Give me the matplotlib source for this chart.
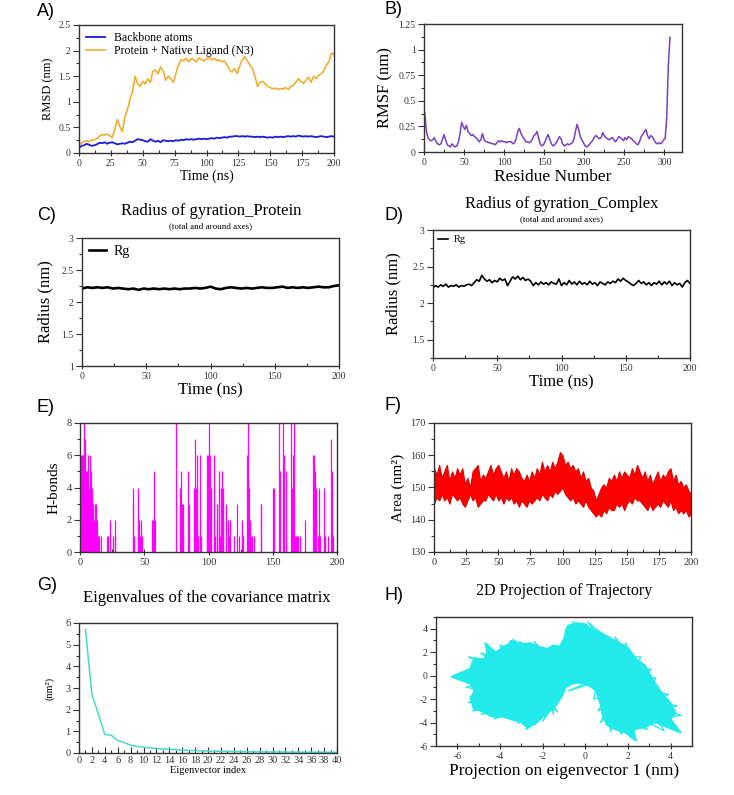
import matplotlib
matplotlib.use('Agg')
import matplotlib.pyplot as plt
from matplotlib.ticker import MultipleLocator, StrMethodFormatter
import numpy as np

plt.rcParams['font.family'] = ['Liberation Serif', 'DejaVu Serif']
plt.rcParams['axes.unicode_minus'] = False

# ---- A) RMSD (every 2 ns) ----
rmsd_time = np.arange(0, 201, 2)
rmsd_backbone = [0.10, 0.14, 0.15, 0.18, 0.16, 0.14, 0.15, 0.17, 0.20, 0.19,
                 0.21, 0.18, 0.20, 0.21, 0.19, 0.17, 0.18, 0.19, 0.18, 0.20,
                 0.22, 0.21, 0.24, 0.27, 0.26, 0.25, 0.23, 0.22, 0.27, 0.24,
                 0.22, 0.24, 0.21, 0.25, 0.24, 0.23, 0.24, 0.23, 0.25, 0.24,
                 0.26, 0.25, 0.27, 0.26, 0.27, 0.26, 0.27, 0.28, 0.27, 0.28,
                 0.27, 0.28, 0.29, 0.28, 0.30, 0.29, 0.30, 0.31, 0.30, 0.32,
                 0.32, 0.33, 0.33, 0.32, 0.33, 0.32, 0.33, 0.32, 0.32, 0.31,
                 0.32, 0.31, 0.32, 0.31, 0.30, 0.31, 0.30, 0.32, 0.31, 0.32,
                 0.31, 0.32, 0.33, 0.32, 0.33, 0.32, 0.34, 0.33, 0.32, 0.33,
                 0.32, 0.33, 0.32, 0.31, 0.32, 0.33, 0.32, 0.31, 0.32, 0.33,
                 0.32]
rmsd_complex = [0.15, 0.20, 0.22, 0.24, 0.22, 0.25, 0.26, 0.28, 0.33, 0.36,
                0.35, 0.37, 0.34, 0.30, 0.45, 0.65, 0.52, 0.42, 0.70, 0.85,
                1.05, 1.20, 1.50, 1.35, 1.30, 1.40, 1.35, 1.45, 1.38, 1.60,
                1.62, 1.55, 1.68, 1.60, 1.42, 1.50, 1.45, 1.38, 1.55, 1.72,
                1.82, 1.80, 1.85, 1.78, 1.84, 1.82, 1.78, 1.86, 1.82, 1.80,
                1.84, 1.86, 1.82, 1.85, 1.80, 1.82, 1.78, 1.80, 1.72, 1.62,
                1.58, 1.65, 1.55, 1.70, 1.82, 1.88, 1.80, 1.72, 1.65, 1.50,
                1.30, 1.38, 1.40, 1.35, 1.30, 1.28, 1.25, 1.27, 1.24, 1.26,
                1.25, 1.28, 1.24, 1.30, 1.32, 1.38, 1.45, 1.40, 1.36, 1.42,
                1.48, 1.38, 1.50, 1.45, 1.52, 1.55, 1.60, 1.72, 1.78, 1.95,
                1.92]

# ---- B) RMSF per residue (every 2nd residue) ----
rmsf_res = np.arange(1, 308, 2)
rmsf_val = [0.38, 0.20, 0.14, 0.12, 0.11, 0.12, 0.14, 0.10, 0.08, 0.07,
            0.08, 0.12, 0.17, 0.12, 0.07, 0.06, 0.05, 0.08, 0.06, 0.05,
            0.06, 0.10, 0.18, 0.29, 0.25, 0.22, 0.26, 0.20, 0.18, 0.16,
            0.17, 0.15, 0.14, 0.12, 0.10, 0.12, 0.18, 0.12, 0.10, 0.10,
            0.09, 0.09, 0.08, 0.08, 0.07, 0.09, 0.11, 0.10, 0.11, 0.10,
            0.10, 0.09, 0.10, 0.10, 0.10, 0.08, 0.09, 0.13, 0.20, 0.23,
            0.18, 0.15, 0.13, 0.10, 0.10, 0.09, 0.10, 0.12, 0.16, 0.17,
            0.20, 0.14, 0.08, 0.06, 0.07, 0.10, 0.14, 0.17, 0.12, 0.08,
            0.06, 0.07, 0.09, 0.12, 0.15, 0.13, 0.08, 0.06, 0.07, 0.08,
            0.07, 0.08, 0.09, 0.12, 0.20, 0.27, 0.22, 0.15, 0.12, 0.09,
            0.06, 0.05, 0.06, 0.08, 0.10, 0.12, 0.15, 0.16, 0.14, 0.13,
            0.14, 0.19, 0.16, 0.14, 0.13, 0.12, 0.13, 0.14, 0.12, 0.10,
            0.12, 0.15, 0.14, 0.13, 0.11, 0.14, 0.12, 0.15, 0.14, 0.13,
            0.11, 0.10, 0.08, 0.07, 0.10, 0.15, 0.17, 0.20, 0.22, 0.16,
            0.13, 0.16, 0.15, 0.12, 0.09, 0.08, 0.09, 0.08, 0.09, 0.12,
            0.13, 0.35, 0.85, 1.12]

# ---- C) Rg protein (every 4 ns) ----
rgp_time = np.arange(0, 201, 4)
rgp_val = [2.21, 2.23, 2.22, 2.23, 2.22, 2.23, 2.21, 2.22, 2.21, 2.20,
           2.21, 2.19, 2.21, 2.20, 2.21, 2.20, 2.21, 2.20, 2.21, 2.20,
           2.21, 2.21, 2.22, 2.21, 2.22, 2.24, 2.21, 2.20, 2.22, 2.23,
           2.22, 2.21, 2.22, 2.21, 2.22, 2.23, 2.22, 2.22, 2.23, 2.24,
           2.22, 2.23, 2.22, 2.23, 2.22, 2.23, 2.24, 2.23, 2.23, 2.25,
           2.26]

# ---- D) Rg complex (every 2 ns) ----
rgc_time = np.arange(0, 201, 2)
rgc_val = [2.21, 2.24, 2.22, 2.25, 2.23, 2.26, 2.22, 2.24, 2.23, 2.25,
           2.22, 2.24, 2.23, 2.25, 2.26, 2.24, 2.28, 2.32, 2.30, 2.38,
           2.33, 2.30, 2.32, 2.28, 2.31, 2.29, 2.34, 2.31, 2.33, 2.24,
           2.30, 2.36, 2.33, 2.37, 2.32, 2.35, 2.31, 2.33, 2.30, 2.24,
           2.28, 2.25, 2.29, 2.26, 2.28, 2.25, 2.29, 2.27, 2.26, 2.33,
           2.24, 2.28, 2.25, 2.31, 2.26, 2.29, 2.25, 2.30, 2.26, 2.28,
           2.25, 2.30, 2.26, 2.28, 2.24, 2.29, 2.27, 2.25, 2.29, 2.27,
           2.30, 2.28, 2.33, 2.30, 2.34, 2.31, 2.29, 2.26, 2.24, 2.27,
           2.31, 2.27, 2.29, 2.25, 2.28, 2.24, 2.28, 2.26, 2.30, 2.25,
           2.29, 2.26, 2.30, 2.24, 2.28, 2.25, 2.27, 2.22, 2.28, 2.31,
           2.27]

# ---- E) H-bonds (time ns, count) ----
hb_time = [0.2, 0.5, 1.0, 1.5, 2.0, 2.5, 3.0, 3.5, 4.0, 4.5, 5.0, 5.5, 6.0,
           6.5, 7.0, 7.5, 8.0, 8.5, 9.0, 9.5, 10.0, 10.5, 11.0, 11.5, 12.0,
           12.5, 13.0, 13.5, 14.0, 15.0, 16.5, 21, 22, 23.5, 26, 27, 27.5,
           41, 41.5, 42, 45.5, 46, 47, 47.5, 48, 56, 57, 57.5, 58,
           75, 78, 78.5, 79, 80, 80.5, 84, 84.5, 85, 89, 89.5, 90, 91, 92,
           93, 93.5, 94, 98.5, 99, 99.5, 100, 100.5, 101, 101.5, 102, 104,
           104.5, 105, 106.5, 107, 108, 108.5, 109, 110, 110.5, 111, 111.5,
           113.5, 115, 116, 117, 120, 122.5, 124, 126, 127, 130, 130.5, 131,
           131.5, 132, 133, 134, 135.5, 140.5, 141, 150, 151, 155, 156, 158,
           159, 160, 160.5, 164.5, 165, 165.5, 166.5, 167, 168, 169, 170,
           171, 175, 181.5, 182, 183, 183.5, 184, 185, 186, 187, 189.5, 190,
           191, 193, 195.5, 196, 196.5]
hb_count = [3, 6, 4, 6, 5, 6, 8, 7, 7, 5, 2, 5, 6,
            1, 4, 6, 2, 5, 3, 4, 1, 3, 2, 3, 1,
            3, 1, 2, 1, 1, 1, 1, 1, 2, 1, 2, 1,
            4, 3, 1, 4, 2, 1, 2, 1, 2, 2, 5, 2,
            8, 4, 5, 3, 3, 1, 5, 3, 1, 4, 7, 4, 6, 1,
            6, 2, 1, 6, 2, 6, 3, 8, 6, 1, 4, 6,
            2, 1, 2, 3, 5, 4, 1, 4, 5, 2, 4,
            3, 2, 1, 2, 1, 3, 1, 2, 1, 6, 8, 6,
            4, 2, 1, 1, 1, 3, 3, 4, 4, 8, 5, 8,
            6, 5, 1, 8, 4, 6, 8, 1, 1, 1, 1,
            1, 2, 6, 6, 5, 2, 4, 1, 4, 1, 1, 4,
            1, 1, 7, 5, 1]

# ---- F) SASA band, upper / lower trace (every 2 ns) ----
sasa_time = np.arange(0, 201, 2)
sasa_hi = [156, 154, 157, 153, 155, 157, 152, 155, 153, 156,
           154, 156, 151, 153, 150, 155, 156, 157, 152, 154,
           153, 155, 157, 154, 156, 157, 155, 153, 155, 152,
           156, 154, 156, 155, 153, 152, 154, 152, 155, 153,
           156, 154, 158, 155, 157, 155, 158, 156, 158, 161,
           160, 157, 158, 156, 157, 155, 156, 153, 155, 152,
           153, 150, 149, 146, 148, 150, 151, 150, 153, 152,
           154, 152, 155, 153, 155, 154, 153, 156, 154, 157,
           155, 153, 155, 152, 154, 151, 153, 155, 152, 154,
           153, 155, 156, 152, 154, 151, 152, 150, 151, 149,
           148]
sasa_lo = [145, 147, 146, 148, 146, 147, 145, 148, 147, 146,
           147, 145, 144, 146, 148, 146, 147, 144, 145, 146,
           146, 148, 147, 146, 148, 146, 147, 145, 147, 146,
           147, 145, 146, 144, 146, 145, 144, 146, 145, 146,
           147, 146, 148, 147, 146, 148, 147, 149, 148, 149,
           150, 148, 147, 146, 147, 145, 146, 145, 144, 146,
           144, 143, 142, 141, 142, 141, 143, 142, 144, 143,
           143, 145, 144, 145, 143, 145, 146, 145, 147, 146,
           146, 145, 144, 143, 145, 143, 144, 145, 144, 146,
           145, 144, 146, 143, 144, 142, 143, 142, 143, 141,
           142]

# ---- G) eigenvalues ----
eig_index = np.arange(1, 41)
eig_val = [5.7, 2.7, 1.8, 0.85, 0.82, 0.58, 0.48, 0.36, 0.30, 0.27,
           0.24, 0.20, 0.19, 0.17, 0.15, 0.13, 0.12, 0.11, 0.10, 0.09,
           0.085, 0.08, 0.075, 0.07, 0.065, 0.06, 0.058, 0.055, 0.052, 0.05,
           0.048, 0.046, 0.044, 0.042, 0.04, 0.038, 0.036, 0.035, 0.034, 0.033]

# ---- H) projection: dense region outline + ragged excursions ----
proj_x = [-6.3, -5.4, -5.3, -5.1, -4.8, -4.6, -4.7, -4.2, -3.9, -3.6, -3.5,
          -3.0, -2.6, -2.2, -1.8, -1.5, -1.2, -1.0, -0.9, -0.8, -0.4, 0.0,
          0.3, 0.8, 1.2, 1.6, 2.0, 2.4, 2.8, 3.2, 3.6, 4.0, 4.25, 4.0, 4.5,
          3.8, 3.3, 2.8, 2.3, 2.3, 1.9, 1.4, 1.0, 0.8, 0.7, 0.5, 0.2, -0.2,
          -0.6, -0.9, -1.1, -1.35, -1.6, -2.0, -2.3, -2.7, -3.0, -3.4, -3.9,
          -4.4, -4.8, -5.25, -5.4, -5.2, -5.4, -6.3]
proj_y = [-0.1, 0.6, 1.2, 1.5, 1.4, 1.8, 2.8, 2.0, 2.4, 2.7, 3.0,
          2.7, 2.8, 2.5, 2.3, 2.6, 2.5, 3.2, 4.0, 4.3, 4.5, 4.4,
          4.0, 3.6, 3.2, 2.8, 2.4, 1.4, 0.9, -0.4, -1.5, -2.3, -3.2, -3.7, -4.9,
          -4.4, -4.0, -4.4, -4.6, -5.5, -4.9, -4.6, -4.2, -3.4, -2.4, -1.3, -0.9, -0.6,
          -0.7, -1.0, -1.8, -2.5, -3.0, -3.4, -4.0, -4.5, -4.0, -3.8, -3.5,
          -3.5, -3.1, -2.8, -1.9, -1.3, -0.7, -0.1]
edge_x = [-3.0, -5.6, -4.5, -5.5, -4.2, -4.9, -3.8, -4.0, -3.2, -3.4, -2.6,
          -3.1, -2.0, -2.4, -1.9, -1.6, -2.6, -5.6, -4.0, -5.5, -4.1, -5.3,
          -3.6, -4.9, -3.5, -4.3, -3.0, -3.7, -2.7, -3.2, -2.2, -2.8, -1.9,
          -2.4, -1.7, -2.0, -1.5, -1.5, -1.6, -1.3, -3.0,
          1.5, -0.6, 0.8, 0.1, 1.0, 0.6, 1.5, 1.4, 1.8, 1.9, 2.0, 2.6, 2.4,
          3.1, 2.5, 3.3, 3.0, 3.9, 3.2, 4.3, 3.6, 4.5, 3.5, 4.3, 3.4, 3.7, 2.8,
          2.9, 2.2, 2.4, 1.8, 1.7, 1.3, 1.2, 1.0, 0.7, 1.1, 0.6, 1.0, 0.4, 0.5,
          -0.3, 0.2, -0.8, 1.5]
edge_y = [-0.5, 0.3, 0.8, 1.6, 1.2, 1.9, 1.5, 2.6, 2.2, 3.1, 2.0,
          2.9, 2.1, 2.9, 1.8, 2.4, 0.5, -1.0, -1.5, -2.3, -2.2, -3.0,
          -2.6, -3.3, -2.9, -3.7, -3.0, -3.3, -3.4, -4.1, -3.0, -4.6, -3.4,
          -4.2, -2.9, -3.9, -2.6, -3.3, -2.2, -3.1, -0.5,
          0.0, 4.6, 3.0, 4.6, 3.2, 3.8, 2.5, 3.3, 2.2, 2.8, 1.6, 1.6, 0.8,
          0.5, 0.0, -0.2, -1.2, -1.6, -2.0, -2.6, -2.8, -3.4, -3.6, -4.5, -3.8,
          -4.7, -3.9, -4.6, -4.1, -5.6, -4.3, -5.0, -3.9, -4.8, -3.5, -4.0,
          -2.6, -3.0, -1.8, -2.0, -1.0, -0.6, -0.5, -1.3, 0.0]

W, H = 734, 795
fig = plt.figure(figsize=(W / 100, H / 100), dpi=100)


def box(x0, y0, x1, y1):
    return [x0 / W, 1 - y1 / H, (x1 - x0) / W, (y1 - y0) / H]


def style(ax, xmaj, xmin, ymaj, ymin, fs=7.5):
    ax.xaxis.set_major_locator(MultipleLocator(xmaj))
    ax.xaxis.set_minor_locator(MultipleLocator(xmin))
    ax.yaxis.set_major_locator(MultipleLocator(ymaj))
    ax.yaxis.set_minor_locator(MultipleLocator(ymin))
    ax.xaxis.set_major_formatter(StrMethodFormatter('{x:g}'))
    ax.yaxis.set_major_formatter(StrMethodFormatter('{x:g}'))
    ax.tick_params(which='both', labelsize=fs, width=0.8, color='#333333',
                   labelcolor='#333333', pad=2)
    ax.tick_params(axis='y', which='major', direction='out', length=4)
    ax.tick_params(axis='y', which='minor', direction='out', length=2)
    ax.tick_params(axis='x', which='major', direction='inout', length=5)
    ax.tick_params(axis='x', which='minor', direction='in', length=2.5)
    for s in ax.spines.values():
        s.set_linewidth(1.0)
        s.set_color('#333333')


def letter(x, y, s):
    fig.text(x / W, 1 - y / H, s, family='Liberation Sans', fontsize=13,
             va='center', ha='left')


# A
ax = fig.add_axes(box(79, 25, 334, 153))
ax.plot(rmsd_time, rmsd_backbone, color='#1a1ae6', lw=1.3, label='Backbone atoms')
ax.plot(rmsd_time, rmsd_complex, color='#f5a623', lw=1.1,
        label='Protein + Native Ligand (N3)')
ax.set_xlim(0, 200)
ax.set_ylim(0, 2.5)
style(ax, 25, 12.5, 0.5, 0.25, fs=7)
ax.set_xlabel('Time (ns)', fontsize=10, labelpad=1)
ax.set_ylabel('RMSD (nm)', fontsize=9, labelpad=3)
ax.legend(loc='upper left', frameon=False, fontsize=8.5, handlelength=1.6,
          borderaxespad=0.2, labelspacing=0.1, handletextpad=0.8)
letter(37, 11, 'A)')

# B
ax = fig.add_axes(box(424, 24, 682, 152))
ax.plot(rmsf_res, rmsf_val, color='#7b3fc4', lw=1.1)
ax.set_xlim(0, 322)
ax.set_ylim(0, 1.25)
style(ax, 50, 25, 0.25, 0.125, fs=7)
ax.set_xlabel('Residue Number', fontsize=12.5, labelpad=1)
ax.set_ylabel('RMSF (nm)', fontsize=12, labelpad=4)
letter(385, 9, 'B)')

# C
ax = fig.add_axes(box(82, 238, 339, 366))
ax.plot(rgp_time, rgp_val, color='black', lw=1.9, label='Rg')
ax.set_xlim(0, 200)
ax.set_ylim(1, 3)
style(ax, 50, 25, 0.5, 0.25, fs=7)
ax.set_xlabel('Time (ns)', fontsize=12, labelpad=1)
ax.set_ylabel('Radius (nm)', fontsize=12, labelpad=6)
ax.legend(loc='upper left', frameon=False, fontsize=10, handlelength=1.2,
          borderaxespad=0.1, handletextpad=0.6)
fig.text(211 / W, 1 - 211 / H, 'Radius of gyration_Protein', fontsize=12,
         ha='center', va='center')
fig.text(211 / W, 1 - 226 / H, '(total and around axes)', fontsize=6.5,
         ha='center', va='center')
letter(37, 216, 'C)')

# D
ax = fig.add_axes(box(433, 230, 690, 358))
ax.plot(rgc_time, rgc_val, color='black', lw=1.2, label='Rg')
ax.set_xlim(0, 200)
ax.set_ylim(1.25, 3)
style(ax, 50, 25, 0.5, 0.25, fs=7)
ax.set_xlabel('Time (ns)', fontsize=12, labelpad=1)
ax.set_ylabel('Radius (nm)', fontsize=12, labelpad=8)
ax.legend(loc='upper left', frameon=False, fontsize=7.5, handlelength=0.9,
          borderaxespad=0.1, handletextpad=0.6)
fig.text(562 / W, 1 - 204 / H, 'Radius of gyration_Complex', fontsize=12,
         ha='center', va='center')
fig.text(562 / W, 1 - 219 / H, '(total and around axes)', fontsize=6.5,
         ha='center', va='center')
letter(385, 216, 'D)')

# E
ax = fig.add_axes(box(80, 423, 337, 552))
ax.vlines(hb_time, 0, hb_count, color='#ff00ff', lw=0.9)
ax.set_xlim(0, 200)
ax.set_ylim(0, 8)
style(ax, 50, 25, 2, 1, fs=7.5)
ax.set_ylabel('H-bonds', fontsize=11, labelpad=4)
letter(37, 407, 'E)')

# F
ax = fig.add_axes(box(434, 423, 691, 552))
ax.fill_between(sasa_time, sasa_lo, sasa_hi, color='#ff0000', lw=0.8,
                edgecolor='#e00000')
ax.set_xlim(0, 200)
ax.set_ylim(130, 170)
style(ax, 25, 12.5, 10, 5, fs=7.5)
ax.set_ylabel('Area (nm²)', fontsize=11, labelpad=4)
letter(385, 405, 'F)')

# G
ax = fig.add_axes(box(79, 623, 337, 753))
ax.plot(eig_index, eig_val, color='#48d8c8', lw=1.1)
ax.set_xlim(0, 40)
ax.set_ylim(0, 6)
style(ax, 2, 1, 1, 0.5, fs=7.5)
ax.tick_params(axis='x', which='major', direction='in', length=4)
ax.set_xlabel('Eigenvector index', fontsize=7.5, labelpad=1)
ax.set_ylabel('(nm²)', fontsize=7.5, labelpad=8)
fig.text(207 / W, 1 - 598 / H, 'Eigenvalues of the covariance matrix',
         fontsize=12, ha='center', va='center')
letter(37, 585, 'G)')

# H
ax = fig.add_axes(box(436, 617, 692, 746))
ax.fill(proj_x, proj_y, color='#22eaea', lw=1.0, edgecolor='#22eaea')
ax.plot(edge_x, edge_y, color='#22eaea', lw=0.9)
ax.set_xlim(-7, 5)
ax.set_ylim(-6, 5)
style(ax, 2, 1, 2, 1, fs=7)
ax.set_xlabel('Projection on eigenvector 1 (nm)', fontsize=12.5, labelpad=1)
fig.text(564 / W, 1 - 591 / H, '2D Projection of Trajectory', fontsize=11.5,
         ha='center', va='center')
letter(385, 595, 'H)')

fig.savefig('out.png', dpi=100, facecolor='white')
